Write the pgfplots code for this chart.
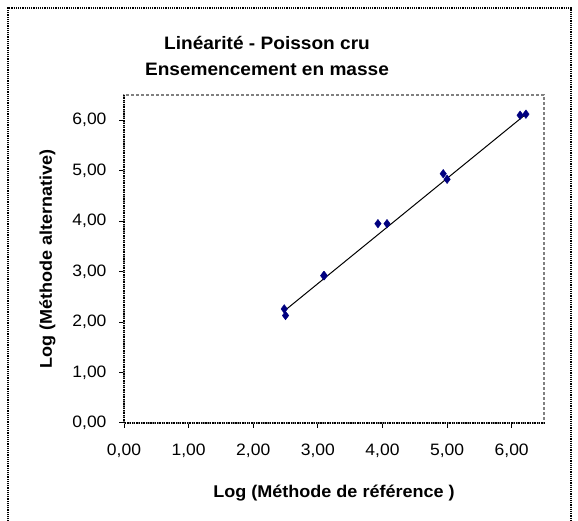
\documentclass[border=0pt]{standalone}
\usepackage{pgfplots}
\pgfplotsset{compat=1.18}
\usepackage{fontspec}
\setmainfont{Liberation Sans}[FakeStretch=1.06]
\definecolor{navy}{RGB}{0,0,128}
\begin{document}
\begin{tikzpicture}[x=1pt,y=1pt]
\useasboundingbox (0pt,0pt) rectangle (578pt,521pt);
\draw[black, densely dotted, line width=1.2pt] (8pt,-5pt) -- (8pt,513pt) -- (571pt,513pt) -- (571pt,-5pt);
\node[font=\fontsize{18}{22}\selectfont\bfseries, align=center] at (267pt,465pt) {Linéarité - Poisson cru\\[4pt]Ensemencement en masse};
\begin{axis}[
  at={(124pt,98pt)}, anchor=origin,
  scale only axis, width=420pt, height=328pt,
  xmin=0, xmax=6.5, ymin=0, ymax=6.5,
  xtick={0,1,2,3,4,5,6}, ytick={0,1,2,3,4,5,6},
  xtick pos=bottom, ytick pos=left,
  tick align=outside, major tick length=5pt,
  tick style={black, line width=1pt},
  axis line style={gray, densely dashed, line width=1.3pt},
  /pgf/number format/.cd, use comma, fixed, fixed zerofill, precision=2, assume math mode=true,
  /pgfplots/.cd,
  ticklabel style={font=\fontsize{16.5}{20}\selectfont},
  xticklabel style={yshift=-12pt},
  yticklabel style={xshift=-9pt},
  xlabel={\bfseries Log (Méthode de référence )},
  ylabel={\bfseries Log (Méthode alternative)},
  label style={font=\fontsize{17}{20}\selectfont},
  xlabel style={yshift=-21pt},
  ylabel style={yshift=10pt},
  clip=false,
]
\draw[black, densely dotted, line width=1.3pt] (rel axis cs:0,1) -- (rel axis cs:0,0) -- (rel axis cs:1,0);
\addplot[black, line width=1pt, forget plot] coordinates {(2.48,2.22) (6.22,6.12)};
\addplot[only marks, mark=diamond*, mark size=4.3pt, color=navy, mark options={fill=navy}] coordinates {
(2.48,2.26) (2.50,2.13) (3.09,2.92) (3.10,2.92) (3.93,3.95) (4.07,3.95)
(4.94,4.94) (5.00,4.83) (6.13,6.10) (6.22,6.12)
};
\end{axis}
\end{tikzpicture}
\end{document}
